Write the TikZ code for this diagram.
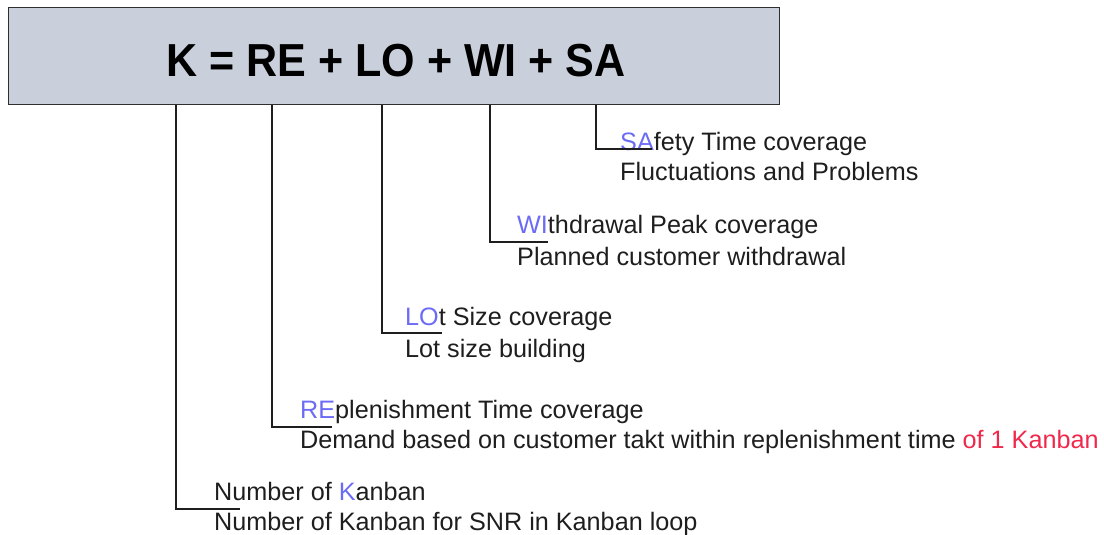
\documentclass[tikz,border=0pt]{standalone}
\usepackage{fontspec}
\setmainfont{Liberation Sans}
\newfontfamily\formulafont{Liberation Sans}[FakeStretch=0.93]
\definecolor{boxfill}{HTML}{C9D0DC}
\definecolor{boxline}{HTML}{2E2E2E}
\definecolor{keyblue}{HTML}{6B6BF5}
\definecolor{keyred}{HTML}{F0284B}
\definecolor{ink}{HTML}{1E1E1E}
\begin{document}
\begin{tikzpicture}[x=1pt,y=-1pt,
  desc/.style={anchor=base west, inner sep=0pt, text=ink,
    font=\fontsize{25.2}{30}\selectfont},
  leader/.style={draw=ink, line width=1.3pt},
  key/.style={text=keyblue}]
\useasboundingbox (0,0) rectangle (1104,535);

% formula box
\node[draw=boxline, fill=boxfill, line width=1.4pt, inner sep=0pt,
      minimum width=771pt, minimum height=97pt, anchor=north west] (box) at (8,7) {};
\node[anchor=base, inner sep=0pt, text=black,
      font=\formulafont\bfseries\fontsize{46.3}{50}\selectfont] (formula) at (396,77)
  {K = RE + LO + WI + SA};

% x positions of the terms
\coordinate (kx) at (176,0);
\coordinate (rex) at (272,0);
\coordinate (lox) at (382,0);
\coordinate (wix) at (490,0);
\coordinate (sax) at (596,0);

% term descriptions
\node[desc] (sa1) at (620,150) {\textcolor{keyblue}{SA}fety Time coverage};
\node[desc] (sa2) at (620,180) {Fluctuations and Problems};

\node[desc] (wi1) at (517,233) {\textcolor{keyblue}{WI}thdrawal Peak coverage};
\node[desc] (wi2) at (517,265) {Planned customer withdrawal};

\node[desc] (lo1) at (405,325) {\textcolor{keyblue}{LO}t Size coverage};
\node[desc] (lo2) at (405,357) {Lot size building};

\node[desc] (re1) at (300,418) {\textcolor{keyblue}{RE}plenishment Time coverage};
\node[desc] (re2) at (300,448) {Demand based on customer takt within replenishment time \textcolor{keyred}{of 1 Kanban}};

\node[desc] (k1) at (214,500) {Number of \textcolor{keyblue}{K}anban};
\node[desc] (k2) at (214,530) {Number of Kanban for SNR in Kanban loop};

% leaders from the formula to the descriptions
\draw[leader] (box.south -| sax) |- ([shift={(32,-1)}]sa1.base west);
\draw[leader] (box.south -| wix) |- ([shift={(31,9)}]wi1.base west);
\draw[leader] (box.south -| lox) |- ([shift={(37,8)}]lo1.base west);
\draw[leader] (box.south -| rex) |- ([shift={(32,9)}]re1.base west);
\draw[leader] (box.south -| kx) |- ([shift={(26,9)}]k1.base west);
\end{tikzpicture}
\end{document}
